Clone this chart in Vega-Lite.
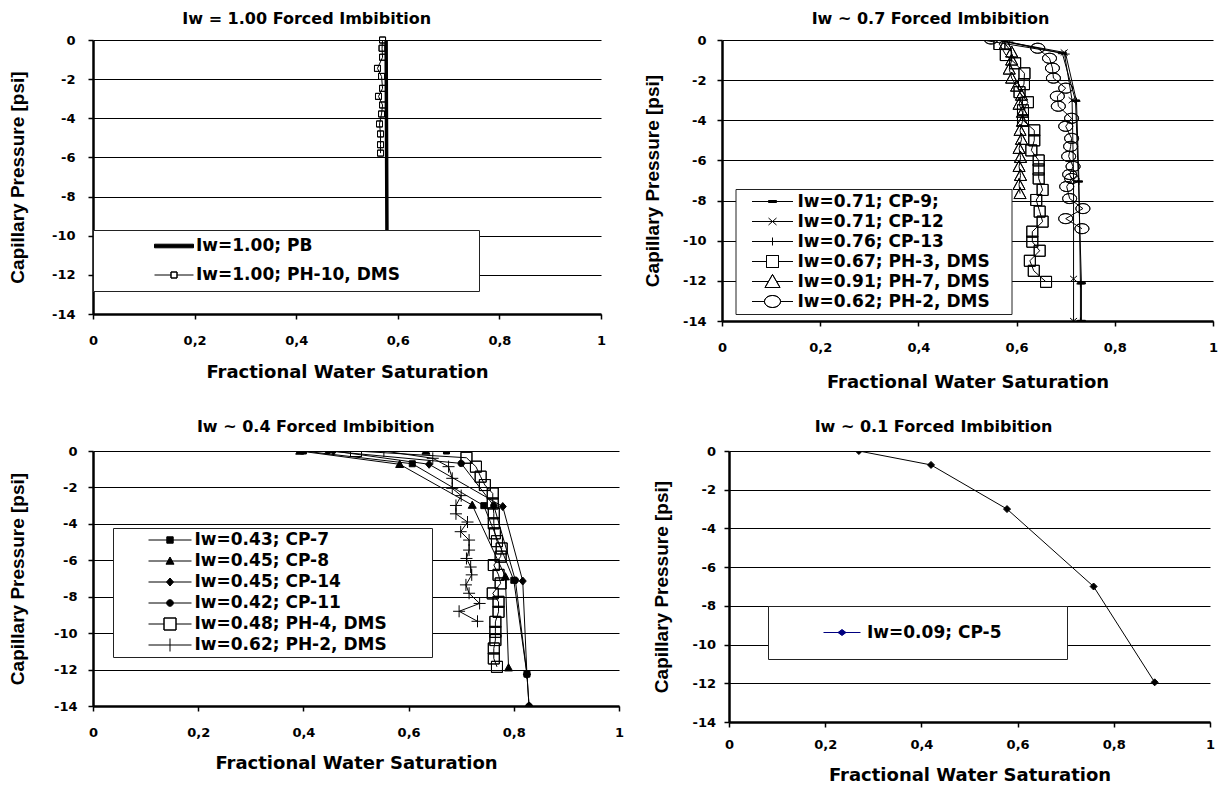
{
  "$schema": "https://vega.github.io/schema/vega-lite/v6.json",
  "background": "white",
  "padding": {"left": 8, "top": 10, "right": 4, "bottom": 0},
  "config": {
    "view": {"stroke": null},
    "font": "DejaVu Sans",
    "axis": {
      "labelFont": "DejaVu Sans", "labelFontSize": 13, "labelFontWeight": "bold", "labelColor": "black",
      "titleFont": "DejaVu Sans", "titleFontSize": 18, "titleFontWeight": "bold", "titleColor": "black",
      "domainColor": "black", "domainWidth": 2.5, "tickColor": "black", "tickWidth": 1.5, "tickSize": 5,
      "gridColor": "black", "gridWidth": 1, "gridOpacity": 1, "labelFlush": false, "labelOverlap": false
    },
    "axisY": {"titleFont": "Liberation Sans", "titleFontSize": 19},
    "title": {"font": "DejaVu Sans", "fontSize": 16, "fontWeight": "bold", "color": "black", "anchor": "middle", "frame": "bounds"},
    "legend": {
      "labelFont": "DejaVu Sans", "labelFontSize": 17, "labelFontWeight": "bold", "labelColor": "black",
      "labelLimit": 600, "symbolSize": 4, "symbolStrokeWidth": 1, "fillColor": "white", "strokeColor": "#222222",
      "orient": "none", "title": null
    }
  },
  "datasets": {
    "p1": [
      {"series": "Iw=1.00; PB", "sw": 0.577, "pc": 0},
      {"series": "Iw=1.00; PB", "sw": 0.578, "pc": -6},
      {"series": "Iw=1.00; PB", "sw": 0.579, "pc": -12},
      {"series": "Iw=1.00; PH-10, DMS", "sw": 0.570, "pc": 0},
      {"series": "Iw=1.00; PH-10, DMS", "sw": 0.569, "pc": -0.42},
      {"series": "Iw=1.00; PH-10, DMS", "sw": 0.570, "pc": -0.88},
      {"series": "Iw=1.00; PH-10, DMS", "sw": 0.560, "pc": -1.45},
      {"series": "Iw=1.00; PH-10, DMS", "sw": 0.568, "pc": -1.86},
      {"series": "Iw=1.00; PH-10, DMS", "sw": 0.570, "pc": -2.47},
      {"series": "Iw=1.00; PH-10, DMS", "sw": 0.562, "pc": -2.88},
      {"series": "Iw=1.00; PH-10, DMS", "sw": 0.570, "pc": -3.32},
      {"series": "Iw=1.00; PH-10, DMS", "sw": 0.568, "pc": -3.78},
      {"series": "Iw=1.00; PH-10, DMS", "sw": 0.564, "pc": -4.29},
      {"series": "Iw=1.00; PH-10, DMS", "sw": 0.566, "pc": -4.80},
      {"series": "Iw=1.00; PH-10, DMS", "sw": 0.566, "pc": -5.35},
      {"series": "Iw=1.00; PH-10, DMS", "sw": 0.566, "pc": -5.78}
    ],
    "p2": [
      {"series": "Iw=0.71; CP-9;", "sw": 0.518, "pc": 0.05},
      {"series": "Iw=0.71; CP-9;", "sw": 0.693, "pc": -0.65},
      {"series": "Iw=0.71; CP-9;", "sw": 0.720, "pc": -3.02},
      {"series": "Iw=0.71; CP-9;", "sw": 0.726, "pc": -7.05},
      {"series": "Iw=0.71; CP-9;", "sw": 0.732, "pc": -12.12},
      {"series": "Iw=0.71; CP-9;", "sw": 0.732, "pc": -14},
      {"series": "Iw=0.71; CP-12", "sw": 0.571, "pc": -0.05},
      {"series": "Iw=0.71; CP-12", "sw": 0.697, "pc": -0.62},
      {"series": "Iw=0.71; CP-12", "sw": 0.713, "pc": -3.0},
      {"series": "Iw=0.71; CP-12", "sw": 0.716, "pc": -6.95},
      {"series": "Iw=0.71; CP-12", "sw": 0.716, "pc": -11.9},
      {"series": "Iw=0.71; CP-12", "sw": 0.716, "pc": -14},
      {"series": "Iw=0.76; CP-13", "sw": 0.585, "pc": -0.1},
      {"series": "Iw=0.76; CP-13", "sw": 0.700, "pc": -0.7},
      {"series": "Iw=0.76; CP-13", "sw": 0.722, "pc": -3.05},
      {"series": "Iw=0.76; CP-13", "sw": 0.727, "pc": -7.05},
      {"series": "Iw=0.76; CP-13", "sw": 0.730, "pc": -12.15},
      {"series": "Iw=0.76; CP-13", "sw": 0.730, "pc": -14},
      {"series": "Iw=0.67; PH-3, DMS", "sw": 0.565, "pc": -0.2},
      {"series": "Iw=0.67; PH-3, DMS", "sw": 0.578, "pc": -0.75},
      {"series": "Iw=0.67; PH-3, DMS", "sw": 0.597, "pc": -1.16},
      {"series": "Iw=0.67; PH-3, DMS", "sw": 0.616, "pc": -1.66},
      {"series": "Iw=0.67; PH-3, DMS", "sw": 0.615, "pc": -2.2},
      {"series": "Iw=0.67; PH-3, DMS", "sw": 0.606, "pc": -2.6},
      {"series": "Iw=0.67; PH-3, DMS", "sw": 0.623, "pc": -3.1},
      {"series": "Iw=0.67; PH-3, DMS", "sw": 0.613, "pc": -3.5},
      {"series": "Iw=0.67; PH-3, DMS", "sw": 0.613, "pc": -4.0},
      {"series": "Iw=0.67; PH-3, DMS", "sw": 0.636, "pc": -4.5},
      {"series": "Iw=0.67; PH-3, DMS", "sw": 0.636, "pc": -5.0},
      {"series": "Iw=0.67; PH-3, DMS", "sw": 0.630, "pc": -5.5},
      {"series": "Iw=0.67; PH-3, DMS", "sw": 0.645, "pc": -6.0},
      {"series": "Iw=0.67; PH-3, DMS", "sw": 0.645, "pc": -6.45},
      {"series": "Iw=0.67; PH-3, DMS", "sw": 0.645, "pc": -6.9},
      {"series": "Iw=0.67; PH-3, DMS", "sw": 0.653, "pc": -7.47},
      {"series": "Iw=0.67; PH-3, DMS", "sw": 0.640, "pc": -7.97},
      {"series": "Iw=0.67; PH-3, DMS", "sw": 0.647, "pc": -8.55},
      {"series": "Iw=0.67; PH-3, DMS", "sw": 0.653, "pc": -9.05},
      {"series": "Iw=0.67; PH-3, DMS", "sw": 0.632, "pc": -9.55},
      {"series": "Iw=0.67; PH-3, DMS", "sw": 0.632, "pc": -10.05},
      {"series": "Iw=0.67; PH-3, DMS", "sw": 0.647, "pc": -10.5},
      {"series": "Iw=0.67; PH-3, DMS", "sw": 0.627, "pc": -11.0},
      {"series": "Iw=0.67; PH-3, DMS", "sw": 0.635, "pc": -11.5},
      {"series": "Iw=0.67; PH-3, DMS", "sw": 0.660, "pc": -12.05},
      {"series": "Iw=0.91; PH-7, DMS", "sw": 0.577, "pc": -0.2},
      {"series": "Iw=0.91; PH-7, DMS", "sw": 0.590, "pc": -0.6},
      {"series": "Iw=0.91; PH-7, DMS", "sw": 0.590, "pc": -1.0},
      {"series": "Iw=0.91; PH-7, DMS", "sw": 0.585, "pc": -1.45},
      {"series": "Iw=0.91; PH-7, DMS", "sw": 0.590, "pc": -1.9},
      {"series": "Iw=0.91; PH-7, DMS", "sw": 0.600, "pc": -2.3},
      {"series": "Iw=0.91; PH-7, DMS", "sw": 0.610, "pc": -2.75},
      {"series": "Iw=0.91; PH-7, DMS", "sw": 0.605, "pc": -3.2},
      {"series": "Iw=0.91; PH-7, DMS", "sw": 0.612, "pc": -3.6},
      {"series": "Iw=0.91; PH-7, DMS", "sw": 0.612, "pc": -4.05},
      {"series": "Iw=0.91; PH-7, DMS", "sw": 0.607, "pc": -4.5},
      {"series": "Iw=0.91; PH-7, DMS", "sw": 0.610, "pc": -4.95},
      {"series": "Iw=0.91; PH-7, DMS", "sw": 0.605, "pc": -5.4},
      {"series": "Iw=0.91; PH-7, DMS", "sw": 0.608, "pc": -5.85},
      {"series": "Iw=0.91; PH-7, DMS", "sw": 0.605, "pc": -6.3},
      {"series": "Iw=0.91; PH-7, DMS", "sw": 0.608, "pc": -6.75},
      {"series": "Iw=0.91; PH-7, DMS", "sw": 0.605, "pc": -7.2},
      {"series": "Iw=0.91; PH-7, DMS", "sw": 0.607, "pc": -7.65},
      {"series": "Iw=0.62; PH-2, DMS", "sw": 0.548, "pc": 0.05},
      {"series": "Iw=0.62; PH-2, DMS", "sw": 0.643, "pc": -0.41},
      {"series": "Iw=0.62; PH-2, DMS", "sw": 0.667, "pc": -0.91},
      {"series": "Iw=0.62; PH-2, DMS", "sw": 0.673, "pc": -1.4},
      {"series": "Iw=0.62; PH-2, DMS", "sw": 0.675, "pc": -1.9},
      {"series": "Iw=0.62; PH-2, DMS", "sw": 0.700, "pc": -2.4},
      {"series": "Iw=0.62; PH-2, DMS", "sw": 0.683, "pc": -2.8},
      {"series": "Iw=0.62; PH-2, DMS", "sw": 0.685, "pc": -3.3},
      {"series": "Iw=0.62; PH-2, DMS", "sw": 0.712, "pc": -3.9},
      {"series": "Iw=0.62; PH-2, DMS", "sw": 0.700, "pc": -4.3},
      {"series": "Iw=0.62; PH-2, DMS", "sw": 0.712, "pc": -4.9},
      {"series": "Iw=0.62; PH-2, DMS", "sw": 0.710, "pc": -5.3},
      {"series": "Iw=0.62; PH-2, DMS", "sw": 0.706, "pc": -5.8},
      {"series": "Iw=0.62; PH-2, DMS", "sw": 0.715, "pc": -6.3},
      {"series": "Iw=0.62; PH-2, DMS", "sw": 0.708, "pc": -6.7},
      {"series": "Iw=0.62; PH-2, DMS", "sw": 0.712, "pc": -6.9},
      {"series": "Iw=0.62; PH-2, DMS", "sw": 0.702, "pc": -7.3},
      {"series": "Iw=0.62; PH-2, DMS", "sw": 0.708, "pc": -7.9},
      {"series": "Iw=0.62; PH-2, DMS", "sw": 0.735, "pc": -8.4},
      {"series": "Iw=0.62; PH-2, DMS", "sw": 0.700, "pc": -8.9},
      {"series": "Iw=0.62; PH-2, DMS", "sw": 0.733, "pc": -9.4}
    ],
    "p3": [
      {"series": "Iw=0.43; CP-7", "sw": 0.672, "pc": 0},
      {"series": "Iw=0.43; CP-7", "sw": 0.400, "pc": 0},
      {"series": "Iw=0.43; CP-7", "sw": 0.607, "pc": -0.7},
      {"series": "Iw=0.43; CP-7", "sw": 0.743, "pc": -3.0},
      {"series": "Iw=0.43; CP-7", "sw": 0.800, "pc": -7.1},
      {"series": "Iw=0.43; CP-7", "sw": 0.825, "pc": -12.25},
      {"series": "Iw=0.45; CP-8", "sw": 0.633, "pc": 0},
      {"series": "Iw=0.45; CP-8", "sw": 0.393, "pc": 0},
      {"series": "Iw=0.45; CP-8", "sw": 0.583, "pc": -0.73},
      {"series": "Iw=0.45; CP-8", "sw": 0.721, "pc": -2.97},
      {"series": "Iw=0.45; CP-8", "sw": 0.784, "pc": -6.9},
      {"series": "Iw=0.45; CP-8", "sw": 0.790, "pc": -11.9},
      {"series": "Iw=0.45; CP-14", "sw": 0.457, "pc": 0},
      {"series": "Iw=0.45; CP-14", "sw": 0.639, "pc": -0.73},
      {"series": "Iw=0.45; CP-14", "sw": 0.779, "pc": -3.05},
      {"series": "Iw=0.45; CP-14", "sw": 0.817, "pc": -7.14},
      {"series": "Iw=0.45; CP-14", "sw": 0.825, "pc": -12.27},
      {"series": "Iw=0.45; CP-14", "sw": 0.829, "pc": -14},
      {"series": "Iw=0.42; CP-11", "sw": 0.447, "pc": 0},
      {"series": "Iw=0.42; CP-11", "sw": 0.700, "pc": -0.68},
      {"series": "Iw=0.42; CP-11", "sw": 0.762, "pc": -3.0},
      {"series": "Iw=0.42; CP-11", "sw": 0.803, "pc": -7.1},
      {"series": "Iw=0.42; CP-11", "sw": 0.825, "pc": -12.25},
      {"series": "Iw=0.42; CP-11", "sw": 0.829, "pc": -14},
      {"series": "Iw=0.48; PH-4, DMS", "sw": 0.500, "pc": 0},
      {"series": "Iw=0.48; PH-4, DMS", "sw": 0.710, "pc": -0.37},
      {"series": "Iw=0.48; PH-4, DMS", "sw": 0.728, "pc": -0.86},
      {"series": "Iw=0.48; PH-4, DMS", "sw": 0.737, "pc": -1.41},
      {"series": "Iw=0.48; PH-4, DMS", "sw": 0.745, "pc": -1.87},
      {"series": "Iw=0.48; PH-4, DMS", "sw": 0.760, "pc": -2.33},
      {"series": "Iw=0.48; PH-4, DMS", "sw": 0.760, "pc": -2.88},
      {"series": "Iw=0.48; PH-4, DMS", "sw": 0.762, "pc": -3.42},
      {"series": "Iw=0.48; PH-4, DMS", "sw": 0.762, "pc": -3.97},
      {"series": "Iw=0.48; PH-4, DMS", "sw": 0.764, "pc": -4.52},
      {"series": "Iw=0.48; PH-4, DMS", "sw": 0.768, "pc": -4.95},
      {"series": "Iw=0.48; PH-4, DMS", "sw": 0.777, "pc": -5.35},
      {"series": "Iw=0.48; PH-4, DMS", "sw": 0.775, "pc": -5.8},
      {"series": "Iw=0.48; PH-4, DMS", "sw": 0.762, "pc": -6.26},
      {"series": "Iw=0.48; PH-4, DMS", "sw": 0.771, "pc": -6.8},
      {"series": "Iw=0.48; PH-4, DMS", "sw": 0.775, "pc": -7.27},
      {"series": "Iw=0.48; PH-4, DMS", "sw": 0.760, "pc": -7.82},
      {"series": "Iw=0.48; PH-4, DMS", "sw": 0.771, "pc": -8.28},
      {"series": "Iw=0.48; PH-4, DMS", "sw": 0.771, "pc": -8.83},
      {"series": "Iw=0.48; PH-4, DMS", "sw": 0.765, "pc": -9.38},
      {"series": "Iw=0.48; PH-4, DMS", "sw": 0.765, "pc": -9.93},
      {"series": "Iw=0.48; PH-4, DMS", "sw": 0.765, "pc": -10.38},
      {"series": "Iw=0.48; PH-4, DMS", "sw": 0.762, "pc": -10.84},
      {"series": "Iw=0.48; PH-4, DMS", "sw": 0.762, "pc": -11.39},
      {"series": "Iw=0.48; PH-4, DMS", "sw": 0.768, "pc": -11.85},
      {"series": "Iw=0.62; PH-2, DMS", "sw": 0.553, "pc": 0},
      {"series": "Iw=0.62; PH-2, DMS", "sw": 0.646, "pc": -0.4},
      {"series": "Iw=0.62; PH-2, DMS", "sw": 0.676, "pc": -0.86},
      {"series": "Iw=0.62; PH-2, DMS", "sw": 0.683, "pc": -1.5},
      {"series": "Iw=0.62; PH-2, DMS", "sw": 0.683, "pc": -2.05},
      {"series": "Iw=0.62; PH-2, DMS", "sw": 0.700, "pc": -2.45},
      {"series": "Iw=0.62; PH-2, DMS", "sw": 0.690, "pc": -2.99},
      {"series": "Iw=0.62; PH-2, DMS", "sw": 0.690, "pc": -3.45},
      {"series": "Iw=0.62; PH-2, DMS", "sw": 0.712, "pc": -3.9},
      {"series": "Iw=0.62; PH-2, DMS", "sw": 0.699, "pc": -4.43},
      {"series": "Iw=0.62; PH-2, DMS", "sw": 0.715, "pc": -4.89},
      {"series": "Iw=0.62; PH-2, DMS", "sw": 0.715, "pc": -5.44},
      {"series": "Iw=0.62; PH-2, DMS", "sw": 0.710, "pc": -5.9},
      {"series": "Iw=0.62; PH-2, DMS", "sw": 0.718, "pc": -6.37},
      {"series": "Iw=0.62; PH-2, DMS", "sw": 0.720, "pc": -6.8},
      {"series": "Iw=0.62; PH-2, DMS", "sw": 0.709, "pc": -7.35},
      {"series": "Iw=0.62; PH-2, DMS", "sw": 0.715, "pc": -7.81},
      {"series": "Iw=0.62; PH-2, DMS", "sw": 0.735, "pc": -8.37},
      {"series": "Iw=0.62; PH-2, DMS", "sw": 0.696, "pc": -8.8},
      {"series": "Iw=0.62; PH-2, DMS", "sw": 0.731, "pc": -9.35}
    ],
    "p4": [
      {"series": "Iw=0.09; CP-5", "sw": 0.270, "pc": 0},
      {"series": "Iw=0.09; CP-5", "sw": 0.420, "pc": -0.72},
      {"series": "Iw=0.09; CP-5", "sw": 0.578, "pc": -3.0},
      {"series": "Iw=0.09; CP-5", "sw": 0.758, "pc": -7.0},
      {"series": "Iw=0.09; CP-5", "sw": 0.885, "pc": -11.95}
    ]
  },
  "vconcat": [
    {
      "hconcat": [
        {
          "width": 508, "height": 274,
          "title": {"text": "Iw = 1.00 Forced Imbibition", "offset": 7},
          "data": {"name": "p1"},
          "encoding": {
            "x": {"field": "sw", "type": "quantitative", "scale": {"domain": [0, 1], "nice": false, "zero": false},
                  "axis": {"title": "Fractional Water Saturation", "values": [0, 0.2, 0.4, 0.6, 0.8, 1], "grid": false,
                           "labelExpr": "replace(format(datum.value, '.1~f'), '.', ',')", "labelPadding": 15, "titlePadding": 16}},
            "y": {"field": "pc", "type": "quantitative", "scale": {"domain": [-14, 0], "nice": false, "zero": false},
                  "axis": {"title": "Capillary Pressure [psi]", "values": [0, -2, -4, -6, -8, -10, -12, -14], "grid": true,
                           "labelExpr": "'' + datum.value", "labelPadding": 13, "titlePadding": 24.5}}
          },
          "layer": [
            {
              "mark": {"type": "line", "color": "black", "clip": true},
              "encoding": {
                "detail": {"field": "series"},
                "order": {"value": null},
                "strokeWidth": {"condition": {"test": "datum.series === 'Iw=1.00; PB'", "value": 3.5}, "value": 1}
              }
            },
            {
              "transform": [{"filter": "datum.series !== 'Iw=1.00; PB'"}],
              "mark": {"type": "point", "filled": true, "fill": "black", "stroke": "black", "strokeWidth": 1, "size": 4, "opacity": 1},
              "encoding": {
                "shape": {"field": "series", "type": "nominal", "legend": null,
                          "scale": {"domain": ["Iw=1.00; PH-10, DMS"], "range": ["M-3,-3H3V3H-3ZM-3,-3V3H3V-3Z"]}}
              }
            },
            {
              "mark": {"type": "point", "filled": true, "fill": "black", "stroke": "black", "strokeWidth": 1, "size": 4, "opacity": 0},
              "encoding": {
                "shape": {"field": "series", "type": "nominal",
                          "scale": {"domain": ["Iw=1.00; PB", "Iw=1.00; PH-10, DMS"],
                                    "range": ["M-19.5,-1.8H19.5V1.8H-19.5Z", "M-19.5,0H-3M3,0H19.5M-3,-3H3V3H-3ZM-3,-3V3H3V-3Z"]},
                          "legend": {"legendX": 0, "legendY": 190, "padding": 7.5, "rowPadding": 11, "symbolOffset": 65, "labelOffset": 13.5,
                                     "labelExpr": "datum.label + '\u00a0\u00a0\u00a0\u00a0\u00a0\u00a0\u00a0\u00a0\u00a0\u00a0\u00a0\u00a0\u200b'"}}
              }
            }
          ],
          "resolve": {"scale": {"shape": "independent"}}
        },
        {
          "width": 491, "height": 281,
          "title": {"text": "Iw ~ 0.7 Forced Imbibition", "offset": 6},
          "data": {"name": "p2"},
          "encoding": {
            "x": {"field": "sw", "type": "quantitative", "scale": {"domain": [0, 1], "nice": false, "zero": false},
                  "axis": {"title": "Fractional Water Saturation", "values": [0, 0.2, 0.4, 0.6, 0.8, 1], "grid": false,
                           "labelExpr": "replace(format(datum.value, '.1~f'), '.', ',')", "labelPadding": 15, "titlePadding": 19}},
            "y": {"field": "pc", "type": "quantitative", "scale": {"domain": [-14, 0], "nice": false, "zero": false},
                  "axis": {"title": "Capillary Pressure [psi]", "values": [0, -2, -4, -6, -8, -10, -12, -14], "grid": true,
                           "labelExpr": "'' + datum.value", "labelPadding": 11, "titlePadding": 20}}
          },
          "layer": [
            {
              "mark": {"type": "line", "color": "black", "strokeWidth": 1, "clip": true},
              "encoding": {"detail": {"field": "series"}, "order": {"value": null}}
            },
            {
              "mark": {"type": "point", "filled": true, "fill": "black", "stroke": "black", "strokeWidth": 1, "size": 4, "opacity": 1, "clip": true},
              "encoding": {
                "shape": {"field": "series", "type": "nominal", "legend": null,
                          "scale": {"domain": ["Iw=0.71; CP-9;", "Iw=0.71; CP-12", "Iw=0.76; CP-13", "Iw=0.67; PH-3, DMS", "Iw=0.91; PH-7, DMS", "Iw=0.62; PH-2, DMS"],
                                    "range": [
                                      "M-4,-0.7H4V0.7H-4Z",
                                      "M-3.5,-3L3.5,3M-3.5,3L3.5,-3",
                                      "M-4,0H4M0,-3.5V3.5",
                                      "M-5.5,-5.5H5.5V5.5H-5.5ZM-5.5,-5.5V5.5H5.5V-5.5Z",
                                      "M0,-6L6,5H-6ZM0,-6L-6,5H6Z",
                                      "M-7,0A7,5 0 1,0 7,0A7,5 0 1,0 -7,0ZM-7,0A7,5 0 1,1 7,0A7,5 0 1,1 -7,0Z"
                                    ]}}
              }
            },
            {
              "mark": {"type": "point", "filled": true, "fill": "black", "stroke": "black", "strokeWidth": 1, "size": 4, "opacity": 0},
              "encoding": {
                "shape": {"field": "series", "type": "nominal",
                          "scale": {"domain": ["Iw=0.71; CP-9;", "Iw=0.71; CP-12", "Iw=0.76; CP-13", "Iw=0.67; PH-3, DMS", "Iw=0.91; PH-7, DMS", "Iw=0.62; PH-2, DMS"],
                                    "range": [
                                      "M-20.5,0H20.5M-4,-1H4V1H-4Z",
                                      "M-20.5,0H20.5M-4,-3.5L4,3.5M-4,3.5L4,-3.5",
                                      "M-20.5,0H20.5M0,-4V4",
                                      "M-20.5,0H-6M6,0H20.5M-6,-6H6V6H-6ZM-6,-6V6H6V-6Z",
                                      "M-20.5,0H-4M4,0H20.5M0,-7L7.5,6H-7.5ZM0,-7L-7.5,6H7.5Z",
                                      "M-20.5,0H-8M8,0H20.5M-8,0A8,6 0 1,0 8,0A8,6 0 1,0 -8,0ZM-8,0A8,6 0 1,1 8,0A8,6 0 1,1 -8,0Z"
                                    ]},
                          "legend": {"legendX": 13.5, "legendY": 149, "padding": 4, "rowPadding": 2, "symbolOffset": 24.5, "labelOffset": 16.5,
                                     "labelExpr": "datum.label + '\u00a0\u00a0\u00a0\u200b'"}}
              }
            }
          ],
          "resolve": {"scale": {"shape": "independent"}}
        }
      ],
      "spacing": 37
    },
    {
      "hconcat": [
        {
          "width": 526, "height": 255,
          "title": {"text": "Iw ~ 0.4 Forced Imbibition", "offset": 10},
          "data": {"name": "p3"},
          "encoding": {
            "x": {"field": "sw", "type": "quantitative", "scale": {"domain": [0, 1], "nice": false, "zero": false},
                  "axis": {"title": "Fractional Water Saturation", "values": [0, 0.2, 0.4, 0.6, 0.8, 1], "grid": false,
                           "labelExpr": "replace(format(datum.value, '.1~f'), '.', ',')", "labelPadding": 15, "titlePadding": 15}},
            "y": {"field": "pc", "type": "quantitative", "scale": {"domain": [-14, 0], "nice": false, "zero": false},
                  "axis": {"title": "Capillary Pressure [psi]", "values": [0, -2, -4, -6, -8, -10, -12, -14], "grid": true,
                           "labelExpr": "'' + datum.value", "labelPadding": 11, "titlePadding": 26.5}}
          },
          "layer": [
            {
              "mark": {"type": "line", "color": "black", "strokeWidth": 1, "clip": true},
              "encoding": {"detail": {"field": "series"}, "order": {"value": null}}
            },
            {
              "mark": {"type": "point", "filled": true, "fill": "black", "stroke": "black", "strokeWidth": 1, "size": 4, "opacity": 1, "clip": true},
              "encoding": {
                "shape": {"field": "series", "type": "nominal", "legend": null,
                          "scale": {"domain": ["Iw=0.43; CP-7", "Iw=0.45; CP-8", "Iw=0.45; CP-14", "Iw=0.42; CP-11", "Iw=0.48; PH-4, DMS", "Iw=0.62; PH-2, DMS"],
                                    "range": [
                                      "M-3,-3H3V3H-3Z",
                                      "M0,-4L4,3.2H-4Z",
                                      "M0,-4L3.5,0L0,4L-3.5,0Z",
                                      "M-3.2,0A3.2,3.2 0 1,0 3.2,0A3.2,3.2 0 1,0 -3.2,0Z",
                                      "M-5.5,-5.5H5.5V5.5H-5.5ZM-5.5,-5.5V5.5H5.5V-5.5Z",
                                      "M-6,0H6M0,-6V6"
                                    ]}}
              }
            },
            {
              "mark": {"type": "point", "filled": true, "fill": "black", "stroke": "black", "strokeWidth": 1, "size": 4, "opacity": 0},
              "encoding": {
                "shape": {"field": "series", "type": "nominal",
                          "scale": {"domain": ["Iw=0.43; CP-7", "Iw=0.45; CP-8", "Iw=0.45; CP-14", "Iw=0.42; CP-11", "Iw=0.48; PH-4, DMS", "Iw=0.62; PH-2, DMS"],
                                    "range": [
                                      "M-21.5,0H21.5M-3.2,-3.2H3.2V3.2H-3.2Z",
                                      "M-21.5,0H21.5M0,-4L4,3.2H-4Z",
                                      "M-21.5,0H21.5M0,-4L3.5,0L0,4L-3.5,0Z",
                                      "M-21.5,0H21.5M-3.3,0A3.3,3.3 0 1,0 3.3,0A3.3,3.3 0 1,0 -3.3,0Z",
                                      "M-21.5,0H-6M6,0H21.5M-6,-6H6V6H-6ZM-6,-6V6H6V-6Z",
                                      "M-21.5,0H21.5M0,-6.5V6.5"
                                    ]},
                          "legend": {"legendX": 20, "legendY": 77, "padding": 3.5, "rowPadding": 3, "symbolOffset": 45, "labelOffset": 16,
                                     "labelExpr": "datum.label + '\u00a0\u00a0\u00a0\u00a0\u00a0\u00a0\u00a0\u200b'"}}
              }
            }
          ],
          "resolve": {"scale": {"shape": "independent"}}
        },
        {
          "width": 481, "height": 271,
          "title": {"text": "Iw ~ 0.1 Forced Imbibition", "offset": 10},
          "data": {"name": "p4"},
          "encoding": {
            "x": {"field": "sw", "type": "quantitative", "scale": {"domain": [0, 1], "nice": false, "zero": false},
                  "axis": {"title": "Fractional Water Saturation", "values": [0, 0.2, 0.4, 0.6, 0.8, 1], "grid": false,
                           "labelExpr": "replace(format(datum.value, '.1~f'), '.', ',')", "labelPadding": 11, "titlePadding": 15}},
            "y": {"field": "pc", "type": "quantitative", "scale": {"domain": [-14, 0], "nice": false, "zero": false},
                  "axis": {"title": "Capillary Pressure [psi]", "values": [0, -2, -4, -6, -8, -10, -12, -14], "grid": true,
                           "labelExpr": "'' + datum.value", "labelPadding": 8.5, "titlePadding": 20.5}}
          },
          "layer": [
            {
              "mark": {"type": "line", "color": "black", "strokeWidth": 1, "clip": true},
              "encoding": {"detail": {"field": "series"}, "order": {"value": null}}
            },
            {
              "mark": {"type": "point", "filled": true, "fill": "black", "stroke": "black", "strokeWidth": 1, "size": 4, "opacity": 1, "clip": true},
              "encoding": {
                "shape": {"field": "series", "type": "nominal", "legend": null,
                          "scale": {"domain": ["Iw=0.09; CP-5"], "range": ["M0,-3.5L3.5,0L0,3.5L-3.5,0Z"]}}
              }
            },
            {
              "mark": {"type": "point", "filled": true, "fill": "#000080", "stroke": "#000080", "strokeWidth": 1, "size": 4, "opacity": 0},
              "encoding": {
                "shape": {"field": "series", "type": "nominal",
                          "scale": {"domain": ["Iw=0.09; CP-5"], "range": ["M-18.5,0H18.5M0,-3L4,0L0,3L-4,0Z"]},
                          "legend": {"legendX": 39, "legendY": 155, "padding": 18, "symbolOffset": 47.5, "labelOffset": 16.5,
                                     "labelExpr": "datum.label + '\u00a0\u00a0\u00a0\u00a0\u00a0\u00a0\u00a0\u00a0\u200b'"}}
              }
            }
          ],
          "resolve": {"scale": {"shape": "independent"}}
        }
      ],
      "spacing": 28
    }
  ],
  "spacing": 27
}
